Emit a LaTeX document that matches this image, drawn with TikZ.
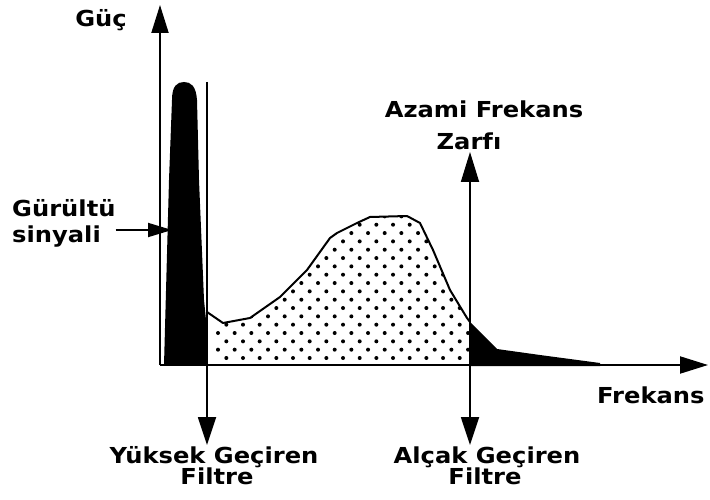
\documentclass[tikz,border=0pt]{standalone}
\usepackage{fontspec}
\newfontfamily\lblfont{DejaVu Sans Bold}[FakeStretch=1.1]
\usetikzlibrary{arrows.meta}
\tikzset{
  lbl/.style={font=\fontsize{22}{26}\lblfont, inner sep=0pt, text=black},
  axisline/.style={line width=2pt, -{Triangle[length=28pt,width=17pt]}},
  filterline/.style={line width=1.8pt, -{Triangle[length=28pt,width=18pt]}},
  bothline/.style={line width=1.8pt, {Triangle[length=30pt,width=18pt]}-{Triangle[length=28pt,width=18pt]}},
  pointer/.style={line width=1.8pt, -{Triangle[length=24pt,width=14pt]}},
  outline/.style={line width=2pt, line join=round},
  dot/.style={fill=black}
}
\begin{document}
\begin{tikzpicture}[x=1pt,y=-1pt]
\useasboundingbox (0,0) rectangle (710,500);
\fill[white] (0,0) rectangle (710,500);

% coordinates
\coordinate (O) at (160,365);
\coordinate (ytip) at (160,5);
\coordinate (xtip) at (708,365);
\coordinate (hpTop) at (207,82);
\coordinate (hpBot) at (207,445);
\coordinate (lpTop) at (470,152);
\coordinate (lpBot) at (470,445);
\coordinate (nz) at (172,230);

% dotted region
\begin{scope}
  \clip (207,312) -- (223,323) -- (250,318) -- (280,297) -- (307,270) -- (330,238) -- (337,233) -- (357,223) -- (370,217) -- (407,216) -- (420,223) -- (433,250) -- (450,290) -- (467,318) -- (470,322) -- (470,365) -- (207,365) -- cycle;
  \foreach \j in {0,...,18}{
    \foreach \k in {0,...,16}{
      \fill[dot] ({218+16.67*\k+8.33*mod(\j+1,2)},{358-8.33*\j}) circle (2pt);
    }
  }
\end{scope}
\draw[outline] (207,312) -- (223,323) -- (250,318) -- (280,297) -- (307,270) -- (330,238) -- (337,233) -- (357,223) -- (370,217) -- (407,216) -- (420,223) -- (433,250) -- (450,290) -- (467,318) -- (470,322);

% noise peak
\fill (164,365) -- (169,180) -- (172,100) .. controls (172,86) and (177,82) .. (184,82) .. controls (191,82) and (196,86) .. (197,100) -- (199,180) -- (204,300) -- (207,330) -- (207,365) -- cycle;

% tail
\fill (470,322) -- (480,332) -- (497,349) -- (540,355) -- (600,363) -- (600,366) -- (470,366) -- cycle;

% axes
\draw[axisline] (O) -- (ytip);
\draw[axisline] (O) -- (xtip);

% filter lines
\draw[filterline] (hpTop) -- (hpBot);
\draw[bothline] (lpTop) -- (lpBot);

% labels
\node[lbl, anchor=base] (guc) at (101,27) {Güç};
\node[lbl, anchor=base west] (noise1) at (12,217) {Gürültü};
\node[lbl, anchor=base west] (noise2) at (12,243) {sinyali};
\draw[pointer] (noise1.east |- nz) -- (nz);
\node[lbl, anchor=base] (azami) at (484,118) {Azami Frekans};
\node[lbl, anchor=base] (zarfi) at (469,150) {Zarfı};
\node[lbl, anchor=base west] (frek) at (597,403) {Frekans};
\node[lbl, anchor=base] (hp1) at (214,463) {Yüksek Geçiren};
\node[lbl, anchor=base] (hp2) at (217,484) {Filtre};
\node[lbl, anchor=base] (lp1) at (487,463) {Alçak Geçiren};
\node[lbl, anchor=base] (lp2) at (485,484) {Filtre};
\end{tikzpicture}
\end{document}
